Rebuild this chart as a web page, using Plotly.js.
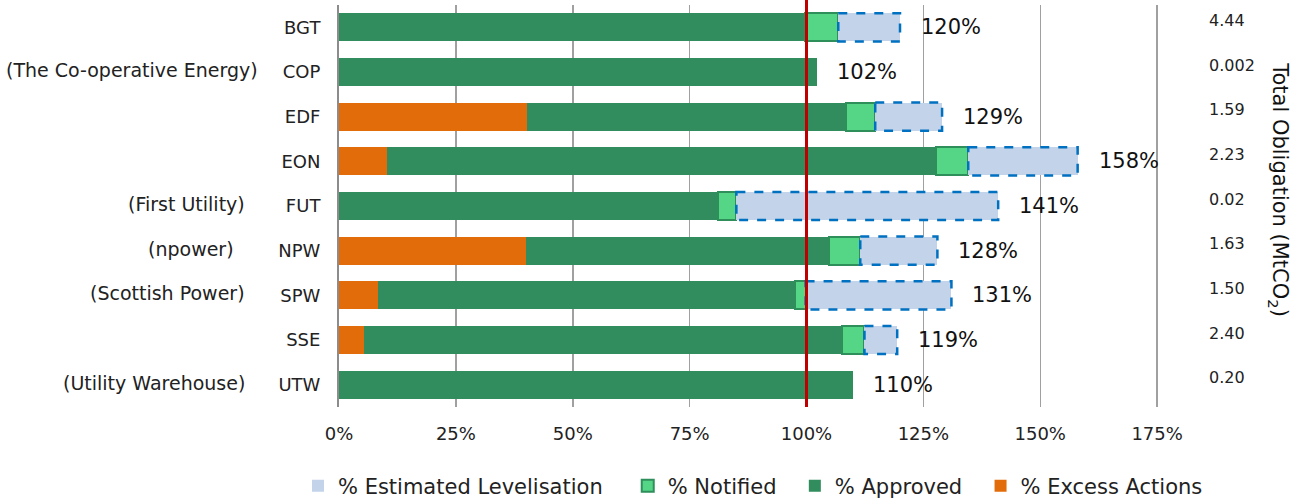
<!DOCTYPE html>
<html>
<head>
<meta charset="utf-8">
<script src="https://cdn.plot.ly/plotly-3.0.1.min.js"></script>
<style>html,body{margin:0;padding:0;background:#fff;}#chart{width:1294px;height:501px;}</style>
</head>
<body>
<div id="chart"></div>
<script>
const suppliers = ["BGT","COP","EDF","EON","FUT","NPW","SPW","SSE","UTW"];
const fullNames = ["","(The Co-operative Energy)","","","(First Utility)","(npower)","(Scottish Power)","","(Utility Warehouse)"];
const excessActions = [0, 0, 40.2, 10.3, 0, 40.0, 8.3, 5.3, 0];
const approved = [99.6, 102.0, 68.3, 117.4, 81.0, 64.9, 89.3, 102.2, 109.8];
const notified = [7.2, 0, 6.2, 6.9, 4.0, 6.6, 2.2, 4.9, 0];
const levelisation = [13.2, 0, 14.3, 23.4, 56.0, 16.5, 31.2, 7.0, 0];
const totalLabels = ["120%","102%","129%","158%","141%","128%","131%","119%","110%"];
const totalObligation = ["4.44","0.002","1.59","2.23","0.02","1.63","1.50","2.40","0.20"];
const seriesNames = ["% Excess Actions","% Approved","% Notified","% Estimated Levelisation"];
const xTicks = [0,25,50,75,100,125,150,175];
const xTickText = ["0%","25%","50%","75%","100%","125%","150%","175%"];

// styling only: small horizontal nudges (px) of the left-hand full names
const nameNudge = {COP: 13, NPW: -11};
const PAD3 = "\u00A0\u00A0\u00A0"; // extra spacing between legend entries
const PAD2 = "\u00A0\u00A0";

const FONT = "DejaVu Sans, Verdana, sans-serif";
const barW = 0.63;

const traces = [
  {type:"bar", orientation:"h", name:seriesNames[0], y:suppliers, x:excessActions,
   marker:{color:"#e36c0a", line:{width:0}}, width:barW},
  {type:"bar", orientation:"h", name:seriesNames[1] + PAD2, y:suppliers, x:approved,
   marker:{color:"#318c5e", line:{width:0}}, width:barW},
  {type:"bar", orientation:"h", name:seriesNames[2] + PAD2, y:suppliers, x:notified,
   marker:{color:"#55d687", line:{color:"#2f8f5b", width:2}}, width:barW},
  {type:"bar", orientation:"h", name:seriesNames[3] + PAD3, y:suppliers, x:levelisation,
   marker:{color:"#c2d3ea", line:{width:0}}, width:barW}
];

const shapes = [];
const annotations = [];
suppliers.forEach((s,i)=>{
  const start = excessActions[i] + approved[i] + notified[i];
  const end = start + levelisation[i];
  if (levelisation[i] > 0) {
    shapes.push({type:"rect", xref:"x", yref:"y", x0:start, x1:end, y0:i-barW/2, y1:i+barW/2,
      line:{color:"#0070c0", width:2.5, dash:"dash"}, fillcolor:"rgba(0,0,0,0)", layer:"above"});
  }
  annotations.push({xref:"x", yref:"y", x:end, y:s, text:totalLabels[i], showarrow:false,
    xanchor:"left", xshift:19, yshift:0, font:{family:FONT, size:21, color:"#111"}});
  annotations.push({xref:"paper", yref:"y", x:1.0587, y:s, text:totalObligation[i], showarrow:false,
    xanchor:"left", yshift:7, font:{family:FONT, size:16, color:"#222"}});
  if (fullNames[i]) {
    annotations.push({xref:"paper", yref:"y", x:-0.112, y:s, text:fullNames[i], showarrow:false,
      xanchor:"right", yshift:2, xshift:(nameNudge[s]||0), font:{family:FONT, size:19, color:"#222"}});
  }
});
annotations.push({xref:"paper", yref:"paper", x:1.146, y:0.54, text:"Total Obligation (MtCO<sub>2</sub>)",
  showarrow:false, textangle:90, xanchor:"center", yanchor:"middle", font:{family:FONT, size:21, color:"#111"}});

shapes.push({type:"line", xref:"x", yref:"paper", x0:100, x1:100, y0:0, y1:1.013,
  line:{color:"#c00000", width:3}, layer:"above"});

const layout = {
  width:1294, height:501,
  margin:{l:339, r:135, t:5, b:94, autoexpand:false},
  paper_bgcolor:"#fff", plot_bgcolor:"#fff",
  barmode:"stack",
  showlegend:true,
  legend:{orientation:"h", traceorder:"reversed", xref:"paper", x:-0.05, xanchor:"left",
    yref:"paper", y:-0.197, yanchor:"middle",
    font:{family:FONT, size:21, color:"#222"}, itemwidth:30},
  xaxis:{range:[0,175.4], tickvals:xTicks, ticktext:xTickText, showgrid:true, gridcolor:"#a0a0a0", gridwidth:1.5,
    zeroline:false, showline:false, ticks:"", ticklabelstandoff:14, tickfont:{family:FONT, size:18, color:"#222"}, fixedrange:true},
  yaxis:{range:[8.5,-0.5], type:"category", showgrid:false, showline:true, linecolor:"#8c8c8c", linewidth:2,
    ticks:"", ticklabelstandoff:13, tickfont:{family:FONT, size:18, color:"#222"}, fixedrange:true},
  shapes:shapes,
  annotations:annotations
};

Plotly.newPlot("chart", traces, layout, {displayModeBar:false, staticPlot:true});
</script>
</body>
</html>
